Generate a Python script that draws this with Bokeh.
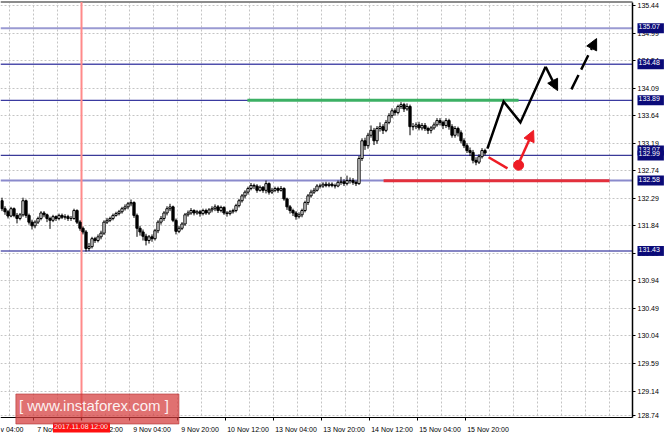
import numpy as np
from bokeh.plotting import figure
from bokeh.models import Range1d, FixedTicker, PrintfTickFormatter, Label, Arrow, NormalHead
from bokeh.embed import file_html
from bokeh.resources import INLINE

# ---------------- data (USD/JPY H1) ----------------
first_open = 132.25
close = [
    132.12, 132.07, 132.00, 132.12, 132.01, 131.96, 132.02, 132.25, 132.01, 131.90,
    131.84, 131.90, 131.96, 132.05, 132.02, 131.96, 131.93, 131.99, 131.96, 132.01,
    131.98, 131.99, 131.96, 131.96, 132.09, 131.90, 131.80, 131.74, 131.47, 131.50,
    131.63, 131.60, 131.66, 131.72, 131.90, 131.93, 131.96, 132.01, 132.04, 132.07,
    132.12, 132.15, 132.20, 132.22, 132.01, 131.80, 131.74, 131.67, 131.60, 131.66,
    131.63, 131.76, 131.90, 131.96, 132.05, 132.12, 132.15, 131.93, 131.75, 131.80,
    131.87, 132.02, 132.05, 132.09, 132.05, 132.07, 132.04, 132.09, 132.05, 132.10,
    132.12, 132.15, 132.09, 132.14, 132.05, 132.04, 132.07, 132.09, 132.17, 132.25,
    132.33, 132.39, 132.45, 132.50, 132.49, 132.42, 132.47, 132.42, 132.53, 132.39,
    132.42, 132.45, 132.42, 132.45, 132.28, 132.15, 132.09, 132.05, 131.99, 132.02,
    132.09, 132.22, 132.33, 132.39, 132.42, 132.49, 132.49, 132.52, 132.50, 132.52,
    132.50, 132.49, 132.55, 132.56, 132.53, 132.58, 132.58, 132.55, 132.53, 132.94,
    133.23, 133.15, 133.32, 133.40, 133.23, 133.43, 133.46, 133.40, 133.53, 133.64,
    133.72, 133.69, 133.79, 133.82, 133.75, 133.79, 133.46, 133.46, 133.49, 133.44,
    133.48, 133.43, 133.40, 133.44, 133.49, 133.56, 133.53, 133.48, 133.56, 133.46,
    133.32, 133.43, 133.36, 133.23, 133.15, 133.07, 133.04, 132.91, 132.88, 132.97,
    133.07, 133.03]
high = [
    132.30, 132.16, 132.10, 132.15, 132.14, 132.05, 132.05, 132.30, 132.27, 132.04,
    131.94, 131.93, 131.99, 132.08, 132.08, 132.04, 131.99, 132.02, 132.01, 132.04,
    132.04, 132.03, 132.02, 132.00, 132.12, 132.11, 131.93, 131.83, 131.77, 131.56,
    131.66, 131.66, 131.70, 131.76, 131.93, 131.97, 131.99, 132.04, 132.07, 132.10,
    132.15, 132.19, 132.23, 132.27, 132.24, 132.04, 131.84, 131.78, 131.71, 131.69,
    131.70, 131.79, 131.93, 132.00, 132.08, 132.16, 132.20, 132.17, 131.96, 131.84,
    131.90, 132.05, 132.09, 132.13, 132.11, 132.10, 132.10, 132.12, 132.12, 132.13,
    132.16, 132.19, 132.18, 132.17, 132.16, 132.08, 132.10, 132.12, 132.20, 132.28,
    132.36, 132.42, 132.48, 132.54, 132.53, 132.52, 132.50, 132.49, 132.58, 132.55,
    132.46, 132.48, 132.48, 132.49, 132.47, 132.30, 132.18, 132.12, 132.08, 132.06,
    132.12, 132.25, 132.36, 132.43, 132.46, 132.52, 132.53, 132.55, 132.56, 132.55,
    132.55, 132.53, 132.58, 132.64, 132.60, 132.66, 132.63, 132.62, 132.58, 132.98,
    133.27, 133.28, 133.36, 133.48, 133.44, 133.47, 133.53, 133.50, 133.57, 133.68,
    133.76, 133.76, 133.82, 133.86, 133.85, 133.84, 133.82, 133.52, 133.53, 133.54,
    133.52, 133.52, 133.46, 133.47, 133.53, 133.60, 133.60, 133.56, 133.60, 133.59,
    133.50, 133.47, 133.46, 133.40, 133.27, 133.19, 133.12, 133.08, 132.96, 133.01,
    133.11, 133.10]
low = [
    132.08, 132.02, 131.96, 131.98, 131.98, 131.88, 131.93, 131.99, 131.97, 131.86,
    131.78, 131.80, 131.87, 131.93, 131.98, 131.90, 131.79, 131.90, 131.92, 131.93,
    131.95, 131.94, 131.92, 131.92, 131.94, 131.87, 131.76, 131.70, 131.42, 131.43,
    131.47, 131.56, 131.57, 131.62, 131.69, 131.87, 131.90, 131.93, 131.99, 132.01,
    132.04, 132.09, 132.11, 132.16, 131.97, 131.66, 131.68, 131.60, 131.52, 131.55,
    131.58, 131.60, 131.72, 131.86, 131.92, 132.01, 132.08, 131.90, 131.70, 131.72,
    131.77, 131.84, 131.99, 132.02, 132.01, 132.02, 131.99, 132.01, 132.02, 132.02,
    132.06, 132.08, 132.05, 132.06, 132.02, 131.99, 132.01, 132.04, 132.06, 132.14,
    132.22, 132.29, 132.35, 132.42, 132.44, 132.38, 132.40, 132.38, 132.37, 132.35,
    132.36, 132.39, 132.38, 132.40, 132.25, 132.10, 132.04, 132.00, 131.94, 131.96,
    131.98, 132.06, 132.18, 132.30, 132.36, 132.40, 132.45, 132.46, 132.47, 132.47,
    132.47, 132.45, 132.47, 132.51, 132.49, 132.50, 132.53, 132.51, 132.49, 132.51,
    132.90, 133.08, 133.10, 133.28, 133.16, 133.18, 133.38, 133.34, 133.37, 133.50,
    133.60, 133.64, 133.66, 133.75, 133.70, 133.72, 133.32, 133.40, 133.42, 133.40,
    133.40, 133.39, 133.34, 133.35, 133.41, 133.46, 133.48, 133.42, 133.44, 133.41,
    133.28, 133.28, 133.30, 133.19, 133.11, 133.03, 132.98, 132.86, 132.83, 132.85,
    132.94, 132.99]
open_ = [first_open] + close[:-1]

price_ticks = [135.44, 134.99, 134.54, 134.09, 133.64, 133.19, 132.74, 132.29,
               131.84, 131.39, 130.94, 130.49, 130.04, 129.59, 129.14, 128.74]
level_values = [135.07, 134.48, 133.89, 133.07, 132.99, 132.58, 131.43]
level_texts = ["135.07", "134.48", "133.89", "133.07", "132.99", "132.58", "131.43"]
edge_label = "v 04:00"      # the cut-off first time label at the left edge
time_labels = ["7 Nov 20:00", "8 Nov 12:00", "9 Nov 04:00", "9 Nov 20:00",
               "10 Nov 12:00", "13 Nov 04:00", "13 Nov 20:00", "14 Nov 12:00",
               "15 Nov 04:00", "15 Nov 20:00"]
first_label_bar = 10.5      # bar index of "7 Nov 20:00"
bars_per_label = 16
crosshair_bar = 26.5
crosshair_text = "2017.11.08 12:00"

resistance_x = [81.8, 172.2]
resistance_y = [133.89, 133.89]
support_x = [127.2, 202.5]
support_y = [132.575, 132.575]
fc_up_x = [161.8, 167.2, 172.8, 181.2, 185.2]
fc_up_y = [133.10, 133.87, 133.53, 134.44, 134.05]
fc_dash_x = [189.8, 198.2]
fc_dash_y = [134.07, 134.90]
fc_red_x = [162.2, 168.5]
fc_red_y = [132.96, 132.78]
fc_red_dot_x = [172.2]
fc_red_dot_y = [132.83]
fc_red_arrow_x = [172.2, 177.2]
fc_red_arrow_y = [132.86, 133.40]

# ---------------- layout constants (pixels -> data) ----------------
X0, X1 = -0.5, 220.8333          # whole canvas width (3 px per bar)
Y0, Y1 = 128.414, 135.5217       # whole canvas height
AX_X = 210.1667                  # right price axis position
AX_Y = 128.708                   # bottom time axis position
TOP_Y = 135.497                  # chart top border

p = figure(width=664, height=435, output_backend="svg", toolbar_location=None,
           x_range=Range1d(X0, X1), y_range=Range1d(Y0, Y1),
           y_axis_location="right", min_border=0, min_border_left=0, min_border_right=0,
           min_border_top=0, min_border_bottom=0)
p.outline_line_color = None
p.background_fill_color = "white"
p.border_fill_color = "white"

FONT = "Liberation Sans"

# right price axis
p.yaxis.fixed_location = AX_X
p.yaxis.bounds = (AX_Y, TOP_Y)
p.yaxis.ticker = FixedTicker(ticks=price_ticks)
p.yaxis.formatter = PrintfTickFormatter(format="%.2f")
p.yaxis.axis_line_color = "black"
p.yaxis.axis_line_width = 1.5
p.yaxis.major_tick_out = 3
p.yaxis.major_tick_in = 0
p.yaxis.minor_tick_line_color = None
p.yaxis.major_label_standoff = 2
p.yaxis.major_label_text_font = FONT
p.yaxis.major_label_text_font_size = "7px"
p.yaxis.major_label_text_color = "black"

# bottom time axis (labels start at the tick like MT4)
label_starts = [first_label_bar + bars_per_label * k for k in range(len(time_labels))]
label_centers = [int(s + 7.5) for s in label_starts]
edge_center = 3
overrides = {c: t for c, t in zip(label_centers, time_labels)}
overrides[edge_center] = edge_label
p.xaxis.fixed_location = AX_Y
p.xaxis.bounds = (X0, AX_X)
p.xaxis.ticker = FixedTicker(ticks=[edge_center] + label_centers, minor_ticks=label_starts)
p.xaxis.major_label_overrides = overrides
p.xaxis.axis_line_color = "black"
p.xaxis.major_tick_line_color = None
p.xaxis.major_tick_out = 0
p.xaxis.major_tick_in = 0
p.xaxis.minor_tick_out = 3
p.xaxis.minor_tick_in = 0
p.xaxis.minor_tick_line_color = "black"
p.xaxis.major_label_standoff = 5
p.xaxis.major_label_text_font = FONT
p.xaxis.major_label_text_font_size = "7px"
p.xaxis.major_label_text_color = "black"

# grids
p.xgrid.ticker = FixedTicker(ticks=[2.5 + 8 * k for k in range(27)])
for g in (p.xgrid, p.ygrid):
    g.grid_line_color = "#c4c4c4"
    g.grid_line_dash = "2 2"
    g.grid_line_width = 1

# white margins for the axis strips (hide the grid there)
p.quad(left=[AX_X], right=[X1], bottom=[Y0], top=[Y1], fill_color="white", line_color=None)
p.quad(left=[X0], right=[X1], bottom=[Y0], top=[AX_Y], fill_color="white", line_color=None)
p.quad(left=[X0], right=[X1], bottom=[TOP_Y], top=[Y1], fill_color="white", line_color=None)

# chart top border
p.segment(x0=[X0], y0=[TOP_Y], x1=[AX_X], y1=[TOP_Y], line_color="#8c8c8c", line_width=2)

# level lines
level_colors = ["#9a9ad2", "#5050ac", "#3a3aa0", "#3a3a98", "#8a8acc", "#5c5cb0"]
level_widths = [2, 1.6, 1.2, 1.2, 2, 1.5]
line_levels = [v for v in level_values if v != 133.07]
p.segment(x0=[X0] * len(line_levels), y0=line_levels, x1=[AX_X] * len(line_levels), y1=line_levels,
          line_color=level_colors, line_width=level_widths)

# crosshair vertical line
p.segment(x0=[crosshair_bar], y0=[128.66], x1=[crosshair_bar], y1=[TOP_Y],
          line_color="#ff8a8a", line_width=2)

# candles
x = np.arange(len(close))
o = np.array(open_); c = np.array(close); h = np.array(high); l = np.array(low)
up = c >= o
dn = ~up
p.segment(x, h, x, l, line_color="black", line_width=1)
p.vbar(x=x[up], top=c[up], bottom=o[up], width=0.75, fill_color="white", line_color="black", line_width=1)
p.vbar(x=x[dn], top=o[dn], bottom=c[dn], width=0.75, fill_color="black", line_color="black", line_width=1)

# resistance / support marks
p.line(resistance_x, resistance_y, line_color="#3cb064", line_width=3)
p.line(support_x, support_y, line_color="#e3303c", line_width=3)

# forecast (black)
p.line(fc_up_x[:-1], fc_up_y[:-1], line_color="black", line_width=2.5, line_join="miter")
p.add_layout(Arrow(end=NormalHead(size=11, fill_color="black", line_color="black"),
                   x_start=fc_up_x[-2], y_start=fc_up_y[-2], x_end=fc_up_x[-1], y_end=fc_up_y[-1],
                   line_color="black", line_width=2.5))
p.add_layout(Arrow(end=NormalHead(size=11, fill_color="black", line_color="black"),
                   x_start=fc_dash_x[0], y_start=fc_dash_y[0], x_end=fc_dash_x[1], y_end=fc_dash_y[1],
                   line_color="black", line_width=2.5, line_dash="16 6"))

# forecast (red)
p.line(fc_red_x, fc_red_y, line_color="#ee1c25", line_width=2.5)
p.scatter(fc_red_dot_x, fc_red_dot_y, size=10, fill_color="#ee1c25", line_color="#ee1c25")
p.add_layout(Arrow(end=NormalHead(size=11, fill_color="#ee1c25", line_color="#ee1c25"),
                   x_start=fc_red_arrow_x[0], y_start=fc_red_arrow_y[0],
                   x_end=fc_red_arrow_x[1], y_end=fc_red_arrow_y[1],
                   line_color="#ee1c25", line_width=2.5))

# price boxes on the right axis
for v, t in zip(level_values, level_texts):
    p.add_layout(Label(x=211.83, y=v, text=t, text_align="left", text_baseline="middle",
                       text_font=FONT, text_font_size="7px", text_color="white",
                       background_fill_color="#0a0a78", padding=(1, 4, 1, 4)))

# crosshair time box
p.add_layout(Label(x=crosshair_bar, y=128.545, text=crosshair_text, text_align="center",
                   text_baseline="middle", text_font=FONT, text_font_size="7px",
                   text_color="#f4f4f4", background_fill_color="#ff1010", padding=(1, 2, 1, 2)))

# watermark
p.add_layout(Label(x=31.8, y=128.847, text="[ www.instaforex.com ]", text_align="center",
                   text_baseline="middle", text_font=FONT, text_font_size="15px",
                   text_color="white", text_alpha=0.92,
                   background_fill_color="#d43a3a", background_fill_alpha=0.72,
                   border_line_color="#b03030", border_line_alpha=0.6,
                   padding=(3, 10, 3, 10)))

open("out.html", "w").write(file_html(p, INLINE))
